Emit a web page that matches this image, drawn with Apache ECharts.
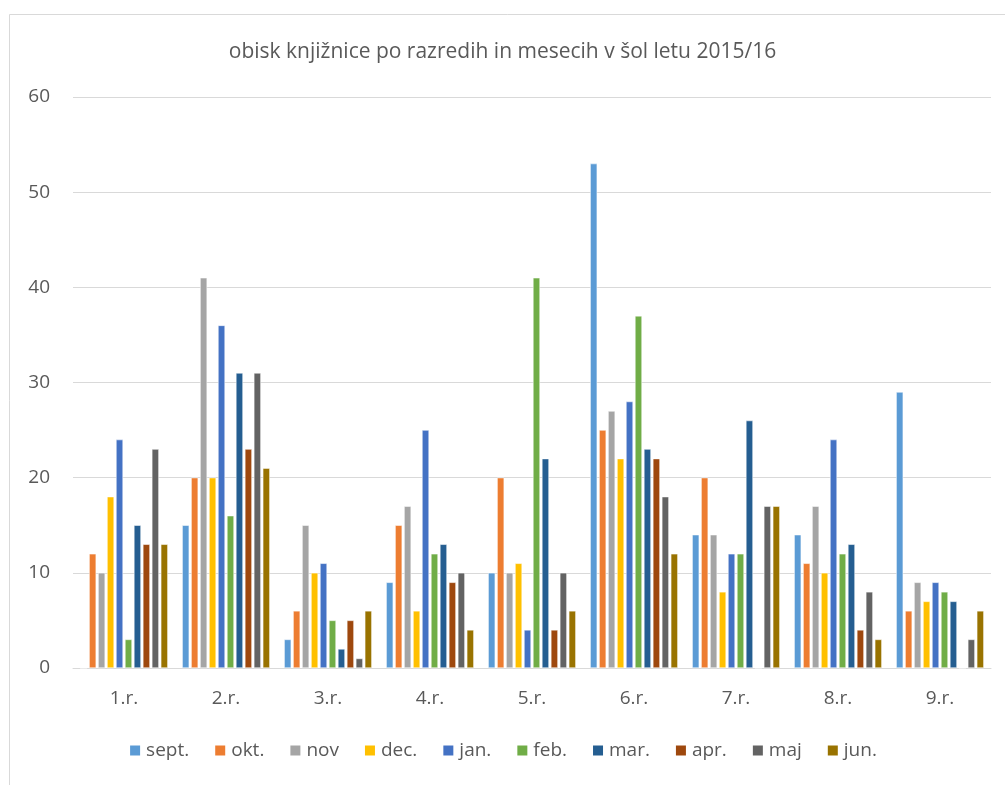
<!DOCTYPE html>
<html>
<head>
<meta charset="utf-8">
<script src="https://cdn.jsdelivr.net/npm/echarts@6/dist/echarts.min.js"></script>
<style>
  html, body { margin: 0; padding: 0; background: #fff; }
  #main { width: 1005px; height: 785px; }
</style>
</head>
<body>
<div id="main"></div>
<script>
// razredi
var categories = ['1.r.', '2.r.', '3.r.', '4.r.', '5.r.', '6.r.', '7.r.', '8.r.', '9.r.'];
var months = ['sept.', 'okt.', 'nov', 'dec.', 'jan.', 'feb.', 'mar.', 'apr.', 'maj', 'jun.'];
var colors = ['#5B9BD5', '#ED7D31', '#A5A5A5', '#FFC000', '#4472C4', '#70AD47', '#255E91', '#9E480E', '#636363', '#997300'];

// obisk po mesecih (vrednosti za 1.r. ... 9.r.)
var sept = [0, 15, 3, 9, 10, 53, 14, 14, 29];
var okt  = [12, 20, 6, 15, 20, 25, 20, 11, 6];
var nov  = [10, 41, 15, 17, 10, 27, 14, 17, 9];
var dec  = [18, 20, 10, 6, 11, 22, 8, 10, 7];
var jan  = [24, 36, 11, 25, 4, 28, 12, 24, 9];
var feb  = [3, 16, 5, 12, 41, 37, 12, 12, 8];
var mar  = [15, 31, 2, 13, 22, 23, 26, 13, 7];
var apr  = [13, 23, 5, 9, 4, 22, 0, 4, 0];
var maj  = [23, 31, 1, 10, 10, 18, 17, 8, 3];
var jun  = [13, 21, 6, 4, 6, 12, 17, 3, 6];
var yTicks = [0, 10, 20, 30, 40, 50, 60];

var allData = [sept, okt, nov, dec, jan, feb, mar, apr, maj, jun];
var fontFam = '"Open Sans", "Noto Sans", sans-serif';

var series = months.map(function (m, i) {
  return {
    name: m,
    type: 'bar',
    barWidth: 7,
    barGap: '28%',
    itemStyle: {
      color: colors[i],
      borderColor: '#fff',
      borderWidth: 0.5
    },
    data: allData[i]
  };
});

var myChart = echarts.init(document.getElementById('main'));
var option = {
  backgroundColor: '#fff',
  animation: false,
  title: {
    text: 'obisk knjižnice po razredih in mesecih v šol letu 2015/16',
    left: 'center',
    top: 37,
    textStyle: {
      fontFamily: fontFam,
      fontSize: 21,
      fontWeight: 'normal',
      color: '#595959'
    }
  },
  graphic: [{
    type: 'rect',
    shape: { x: 9.5, y: 14.5, width: 1005, height: 790 },
    style: { fill: 'none', stroke: '#d9d9d9', lineWidth: 1 },
    z: -1
  }],
  legend: {
    bottom: 20,
    left: 'center',
    itemWidth: 12,
    itemHeight: 12,
    itemGap: 24,
    icon: 'rect',
    textStyle: {
      fontFamily: fontFam,
      fontSize: 19,
      color: '#595959'
    },
    data: months
  },
  grid: {
    left: 73,
    right: 14,
    top: 97,
    bottom: 117
  },
  xAxis: {
    type: 'category',
    data: categories,
    axisLine: { lineStyle: { color: '#d9d9d9', width: 1 } },
    axisTick: { show: false },
    axisLabel: {
      margin: 21,
      fontFamily: fontFam,
      fontSize: 19,
      color: '#595959'
    }
  },
  yAxis: {
    type: 'value',
    min: yTicks[0],
    max: yTicks[yTicks.length - 1],
    interval: 10,
    axisLine: { show: false },
    axisTick: { show: false },
    axisLabel: {
      margin: 23,
      fontFamily: fontFam,
      fontSize: 19,
      color: '#595959'
    },
    splitLine: { lineStyle: { color: '#d9d9d9', width: 1 } }
  },
  series: series
};
myChart.setOption(option);
</script>
</body>
</html>
